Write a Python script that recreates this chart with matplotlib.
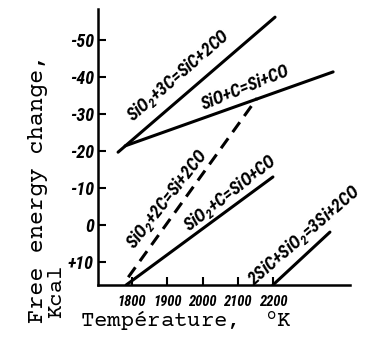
import matplotlib
matplotlib.use("Agg")
import matplotlib.pyplot as plt
from matplotlib import font_manager

plt.rcParams['mathtext.default'] = 'regular'

_avail = set(f.name for f in font_manager.fontManager.ttflist)
def pick(cands):
    for c in cands:
        if c in _avail:
            return [c, 'DejaVu Sans']
    return ['DejaVu Sans']

NARROW = pick(['Roboto Condensed', 'Archivo Narrow', 'PT Sans Narrow',
               'Liberation Sans Narrow', 'Encode Sans Condensed', 'Open Sans Condensed'])
MONO = pick(['Courier Prime', 'Courier New', 'Nimbus Mono PS', 'Cutive Mono',
             'Liberation Mono', 'DejaVu Sans Mono'])

# Data (temperature K, free energy change kcal)
r1_T = [1760, 2206]; r1_F = [-19.7, -56.2]   # SiO2+3C=SiC+2CO
r2_T = [1780, 2371]; r2_F = [-21.4, -41.4]   # SiO+C=Si+CO
r3_T = [1789, 2155]; r3_F = [14.1, -34.3]    # SiO2+2C=Si+2CO (dashed)
r4_T = [1783, 2200]; r4_F = [16.2, -13.0]    # SiO2+C=SiO+CO
r5_T = [2200, 2362]; r5_F = [16.2, 1.9]      # 2SiC+SiO2=3Si+2CO

x_ticks = [1800, 1900, 2000, 2100, 2200]
x_labels = ['1800', '1900', '2000', '2100', '2200']
y_ticks = [-50, -40, -30, -20, -10, 0, 10]
y_labels = ['-50', '-40', '-30', '-20', '-10', '0', '+10']

labels = [
    ("SiO$_2$+3C=SiC+2CO", 1932, -40.5, 41),
    ("SiO+C=Si+CO", 2121, -37.2, 22),
    ("SiO$_2$+2C=Si+2CO", 1898, -7.0, 52),
    ("SiO$_2$+C=SiO+CO", 2078, -8.8, 38),
    ("2SiC+SiO$_2$=3Si+2CO", 2289, 2.7, 41),
]

fig = plt.figure(figsize=(3.69, 3.37), dpi=100)
ax = fig.add_axes([98/369, 1-285/337, (350-98)/369, (285-9)/337])
ax.set_xlim(1703, 2419)
ax.set_ylim(16.2, -58.4)

lw = 2.2
ax.plot(r1_T, r1_F, color='black', lw=lw, solid_capstyle='round')
ax.plot(r2_T, r2_F, color='black', lw=lw, solid_capstyle='round')
ax.plot(r3_T, r3_F, color='black', lw=lw, dashes=(4, 2.5))
ax.plot(r4_T, r4_F, color='black', lw=lw, solid_capstyle='round')
ax.plot(r5_T, r5_F, color='black', lw=lw, solid_capstyle='round')

for txt, x, y, rot in labels:
    ax.text(x, y, txt, rotation=rot, ha='center', va='center',
            family=NARROW, fontsize=13, fontweight='bold', style='italic',
            rotation_mode='anchor')

for s in ['top', 'right']:
    ax.spines[s].set_visible(False)
for s in ['left', 'bottom']:
    ax.spines[s].set_linewidth(1.8)

ax.set_xticks(x_ticks)
ax.set_xticklabels(x_labels, family=NARROW, fontsize=10.5, fontweight='bold', style='italic')
ax.set_yticks(y_ticks)
ax.set_yticklabels(y_labels, family=NARROW, fontsize=13, fontweight='bold', style='italic')
ax.tick_params(axis='both', direction='in', length=6, width=1.5)
ax.tick_params(axis='x', pad=7)
ax.tick_params(axis='y', pad=3)

fig.text(38/369, 1-323/337, "Free energy change,", rotation=90, ha='center', va='bottom',
         family=MONO, fontsize=17)
fig.text(56/369, 1-318/337, "Kcal", rotation=90, ha='center', va='bottom',
         family=MONO, fontsize=16)
fig.text(80/369, 1-321/337, "Température,  $^{o}$K", ha='left', va='center',
         family=MONO, fontsize=16)

fig.savefig("out.png", dpi=100)
